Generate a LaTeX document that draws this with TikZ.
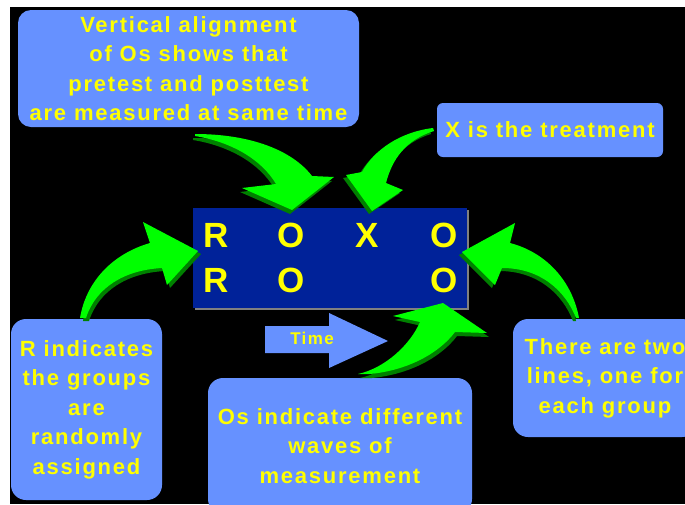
\documentclass[tikz,border=0pt]{standalone}
\usepackage{fontspec}
\setmainfont{Liberation Sans}
\newfontfamily\spacedfont{Liberation Sans}[LetterSpace=8]
\usetikzlibrary{positioning}

\definecolor{slideblue}{RGB}{102,145,255}
\definecolor{deepblue}{RGB}{0,34,153}
\definecolor{slideyellow}{RGB}{255,255,0}
\definecolor{arrowgreen}{RGB}{0,255,0}
\definecolor{arrowdark}{RGB}{0,128,0}

\begin{document}
\begin{tikzpicture}[x=1pt, y=-1pt]
  \useasboundingbox (0,0) rectangle (685,504);
  \clip (0,0) rectangle (685,504);

  % Hintergrund.
  \fill[white] (0,0) rectangle (685,504);
  \fill[black] (10,7) rectangle (685,504);

  % Stile.
  \tikzset{note/.style={rectangle, rounded corners=13pt, fill=slideblue, text=slideyellow,
      align=center, inner sep=0pt, font=\spacedfont\bfseries\fontsize{22}{29.5}\selectfont}}
  \tikzset{letter/.style={anchor=base, text=slideyellow, inner sep=0pt,
      font=\bfseries\fontsize{35}{35}\selectfont}}

  % Kaesten.
  \node[note, minimum width=341, minimum height=117] (vert) at (188.5,68.5)
    {Vertical alignment\\of Os shows that\\pretest and posttest\\are measured at same time};
  \node[note, rounded corners=6pt, minimum width=226, minimum height=54] (treat) at (550,130)
    {X is the treatment};
  \node[note, rounded corners=15pt, minimum width=151, minimum height=181] (rand) at (86.5,409.5)
    {R indicates\\the groups\\are\\randomly\\assigned};
  \node[note, rounded corners=15pt, minimum width=264, minimum height=136] (waves) at (340,446)
    {Os indicate different\\waves of\\measurement};
  \node[note, rounded corners=15pt, minimum width=184, minimum height=118] (lines) at (605,378)
    {There are two\\lines, one for\\each group};

  % Design.
  \fill[gray] (194.5,209.5) rectangle (468.5,309.5);
  \node[rectangle, fill=deepblue, minimum width=274, minimum height=100, inner sep=0pt] (design) at (330,258) {};
  \node[letter] (r1) at (216,247) {R};
  \node[letter] (o1) at (291,247) {O};
  \node[letter] (x1) at (367,247) {X};
  \node[letter] (o2) at (444,247) {O};
  \node[letter] (r2) at (216,292) {R};
  \node[letter] (o3) at (291,292) {O};
  \node[letter] (o4) at (444,292) {O};

  % Zeitpfeil.
  \fill[slideblue] (265,326) -- (329,326) -- (329,313) -- (388,341) -- (329,368) -- (329,353) -- (265,353) -- cycle;
  \node[text=slideyellow, font=\spacedfont\bfseries\fontsize{17}{17}\selectfont] (time) at (312,338) {Time};

  % Gruene Pfeile.
  \foreach \dx/\dy/\col in {-2/4/arrowdark, 0/0/arrowgreen}
    \fill[\col, shift={(\dx,\dy)}] (195,134) .. controls (250,134) and (292,150) .. (312,176)
      -- (334,177) -- (292,210) -- (242,188) -- (276,184)
      .. controls (262,160) and (232,142) .. (195,136) -- cycle;
  \foreach \dx/\dy/\col in {-3/3/arrowdark, 0/0/arrowgreen}
    \fill[\col, shift={(\dx,\dy)}] (433,128) .. controls (400,132) and (374,150) .. (362,172)
      -- (346,175) -- (372,211) -- (403,190) -- (386,183)
      .. controls (392,160) and (405,140) .. (434,131) -- cycle;
  \foreach \dx/\dy/\col in {3/3/arrowdark, 0/0/arrowgreen}
    \fill[\col, shift={(\dx,\dy)}] (80,318) .. controls (86,282) and (112,254) .. (150,243)
      -- (143,222) -- (198,251) -- (167,285) -- (162,268)
      .. controls (125,270) and (96,287) .. (86,318) -- cycle;
  \foreach \dx/\dy/\col in {-3/3/arrowdark, 0/0/arrowgreen}
    \fill[\col, shift={(\dx,\dy)}] (462,252) -- (515,223) -- (510,243)
      .. controls (545,252) and (572,280) .. (579,318) -- (576,318)
      .. controls (565,290) and (540,268) .. (502,268) -- (495,285) -- cycle;
  \foreach \dx/\dy/\col in {2/4/arrowdark, 0/0/arrowgreen}
    \fill[\col, shift={(\dx,\dy)}] (358,374) .. controls (385,368) and (410,345) .. (420,322)
      -- (393,316) -- (443,303) -- (487,333) -- (455,332)
      .. controls (440,352) and (410,370) .. (370,374) -- cycle;
\end{tikzpicture}
\end{document}
